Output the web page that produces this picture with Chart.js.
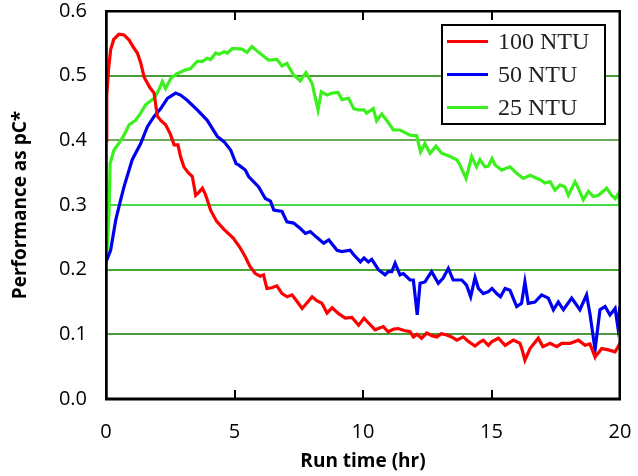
<!DOCTYPE html>
<html>
<head>
<meta charset="utf-8">
<script src="https://cdn.jsdelivr.net/npm/chart.js@4/dist/chart.umd.min.js"></script>
<style>
html,body{margin:0;padding:0;background:#fff;}
#wrap{width:638px;height:476px;position:relative;}
#frame{position:absolute;box-sizing:border-box;border:2px solid #000;pointer-events:none;display:none;}
</style>
</head>
<body>
<div id="wrap"><canvas id="c" width="638" height="476"></canvas><div id="frame"></div></div>
<script>
// ---- Data ----
const seriesLabels = ["100 NTU", "50 NTU", "25 NTU"];
const xTicks = [0, 5, 10, 15, 20];
const yTicks = [0.0, 0.1, 0.2, 0.3, 0.4, 0.5, 0.6];

const t100 = [0,0.03,0.1,0.18,0.3,0.5,0.7,0.9,1.05,1.22,1.35,1.48,1.7,1.87,2.0,2.15,2.32,2.5,2.65,2.8,2.9,3.03,3.2,3.36,3.49,3.62,3.75,3.85,3.94,4.07,4.3,4.6,4.95,5.2,5.42,5.6,5.81,6.0,6.13,6.26,6.45,6.65,6.85,7.05,7.24,7.45,7.63,7.85,8.02,8.2,8.4,8.6,8.8,9.05,9.31,9.57,9.83,10.04,10.25,10.47,10.79,10.98,11.2,11.37,11.6,11.83,11.96,12.1,12.28,12.48,12.68,12.87,13.05,13.26,13.45,13.65,13.9,14.1,14.36,14.55,14.68,14.88,15.02,15.27,15.53,15.85,16.11,16.2,16.3,16.5,16.82,17.0,17.28,17.54,17.73,18.05,18.38,18.64,18.83,19.03,19.29,19.55,19.81,20.0];
const v100 = [0.40,0.47,0.51,0.54,0.556,0.564,0.563,0.555,0.545,0.535,0.52,0.498,0.482,0.473,0.437,0.43,0.424,0.41,0.393,0.393,0.375,0.359,0.35,0.344,0.315,0.32,0.326,0.318,0.308,0.292,0.275,0.262,0.249,0.235,0.220,0.205,0.194,0.19,0.192,0.171,0.172,0.175,0.163,0.158,0.161,0.150,0.140,0.150,0.158,0.152,0.148,0.133,0.141,0.132,0.125,0.126,0.114,0.125,0.116,0.107,0.112,0.104,0.108,0.109,0.106,0.104,0.096,0.1,0.094,0.102,0.098,0.096,0.101,0.099,0.096,0.091,0.096,0.089,0.082,0.088,0.091,0.083,0.089,0.094,0.083,0.091,0.086,0.075,0.060,0.078,0.094,0.081,0.086,0.081,0.086,0.086,0.091,0.083,0.085,0.065,0.078,0.076,0.073,0.086];

const t50 = [0,0.18,0.38,0.57,0.7,1.02,1.35,1.61,1.87,2.13,2.39,2.71,2.9,3.16,3.55,3.94,4.33,4.59,4.85,5.06,5.16,5.42,5.55,5.94,6.2,6.4,6.53,6.85,7.04,7.3,7.55,7.76,7.95,8.2,8.47,8.67,8.99,9.18,9.5,9.64,9.9,10.04,10.21,10.34,10.6,10.86,10.98,11.12,11.25,11.44,11.57,11.83,11.96,12.11,12.22,12.41,12.67,12.93,13.12,13.32,13.51,13.84,14.03,14.19,14.36,14.49,14.68,14.88,15.02,15.2,15.35,15.53,15.72,15.98,16.17,16.3,16.43,16.69,16.95,17.21,17.41,17.6,17.8,18.12,18.44,18.7,18.83,19.03,19.22,19.42,19.61,19.81,19.91,20.0];
const v50 = [0.212,0.230,0.277,0.308,0.328,0.370,0.395,0.421,0.437,0.449,0.465,0.473,0.470,0.462,0.447,0.431,0.406,0.398,0.385,0.364,0.362,0.354,0.344,0.328,0.310,0.306,0.292,0.290,0.274,0.272,0.264,0.256,0.259,0.25,0.241,0.246,0.230,0.228,0.230,0.223,0.212,0.218,0.212,0.216,0.200,0.192,0.197,0.197,0.210,0.192,0.194,0.184,0.184,0.130,0.179,0.181,0.197,0.179,0.187,0.202,0.184,0.184,0.176,0.158,0.188,0.171,0.163,0.166,0.171,0.163,0.158,0.171,0.168,0.143,0.148,0.181,0.148,0.150,0.161,0.156,0.138,0.150,0.138,0.156,0.138,0.161,0.132,0.076,0.138,0.143,0.130,0.140,0.113,0.143];

const t25 = [0,0.05,0.12,0.16,0.31,0.5,0.7,0.9,1.15,1.35,1.54,1.87,2.06,2.19,2.32,2.52,2.77,3.1,3.29,3.55,3.75,3.94,4.07,4.27,4.4,4.59,4.72,4.92,5.29,5.49,5.68,5.94,6.33,6.65,6.85,7.04,7.3,7.56,7.78,8.02,8.25,8.38,8.6,8.8,9.03,9.18,9.44,9.64,9.83,10.04,10.14,10.4,10.53,10.73,10.92,11.18,11.44,11.83,12.09,12.24,12.41,12.61,12.84,13.06,13.39,13.65,13.77,14.01,14.23,14.42,14.55,14.75,14.88,15.02,15.14,15.4,15.72,15.98,16.24,16.5,16.89,17.08,17.28,17.47,17.67,17.86,17.99,18.25,18.38,18.57,18.77,18.96,19.16,19.48,19.67,19.81,19.94,20.0];
const v25 = [0.215,0.235,0.292,0.364,0.385,0.395,0.408,0.424,0.431,0.442,0.455,0.465,0.478,0.491,0.480,0.496,0.503,0.509,0.511,0.522,0.522,0.527,0.525,0.535,0.533,0.537,0.535,0.542,0.541,0.536,0.545,0.536,0.524,0.525,0.515,0.519,0.501,0.492,0.505,0.488,0.447,0.475,0.470,0.473,0.474,0.463,0.465,0.449,0.447,0.447,0.442,0.449,0.430,0.441,0.431,0.416,0.416,0.408,0.407,0.382,0.395,0.380,0.391,0.380,0.375,0.370,0.362,0.341,0.375,0.359,0.370,0.359,0.360,0.372,0.362,0.354,0.359,0.349,0.341,0.346,0.339,0.334,0.336,0.323,0.331,0.328,0.315,0.336,0.326,0.308,0.321,0.313,0.315,0.326,0.315,0.310,0.318,0.297];

const colors = ["#ff0000", "#0000f0", "#3cf01e"];

function pts(t, v){ return t.map((x,i)=>({x:x, y:v[i]})); }

const gridColors = {1:'#4a9a3a', 2:'#44a833', 3:'#48d848', 4:'#6aaa5a', 5:'#4a9a3a'};

// ---- Plugin: legend, inner x ticks and plot frame ----
const framePlugin = {
  id: 'frameLegend',
  afterDraw(chart){
    const ctx = chart.ctx;
    const a = chart.chartArea;
    const xs = chart.scales.x;
    ctx.save();
    // legend
    const w = 163, h = 99;
    const bx = Math.round(a.right) - 15 - w, by = Math.round(a.top) + 14;
    ctx.fillStyle = '#fff';
    ctx.fillRect(bx, by, w, h);
    ctx.strokeStyle = '#000';
    ctx.lineWidth = 2;
    ctx.strokeRect(bx, by, w, h);
    ctx.font = '24px "Liberation Serif", "Times New Roman", serif';
    ctx.textBaseline = 'middle';
    chart.data.datasets.forEach((ds, i)=>{
      const cy = by + 16.5 + i * 33;
      ctx.strokeStyle = ds.borderColor;
      ctx.lineWidth = 3;
      ctx.beginPath();
      ctx.moveTo(bx + 5, cy); ctx.lineTo(bx + 46, cy);
      ctx.stroke();
      ctx.fillStyle = '#222';
      ctx.fillText(ds.label, bx + 56, cy + 1);
    });
    // inner ticks (top and bottom) and frame
    ctx.fillStyle = '#000';
    xTicks.forEach(v=>{
      if (v <= xTicks[0] || v >= xTicks[xTicks.length-1]) return;
      const px = Math.round(xs.getPixelForValue(v));
      ctx.fillRect(px - 1, a.bottom - 9, 2, 9);
      ctx.fillRect(px - 1, a.top, 2, 9);
    });
    ctx.fillRect(a.left - 1, a.top - 1, a.right - a.left + 2, 2.5);
    ctx.fillRect(a.left - 1, a.bottom - 1.5, a.right - a.left + 2, 2.5);
    ctx.fillRect(a.left - 1, a.top - 1, 2.5, a.bottom - a.top + 2);
    ctx.fillRect(a.right - 1.5, a.top - 1, 2.5, a.bottom - a.top + 2);
    ctx.restore();
  }
};

const chart = new Chart(document.getElementById('c'), {
  type: 'line',
  data: {
    datasets: [
      {label: seriesLabels[0], data: pts(t100, v100), borderColor: colors[0]},
      {label: seriesLabels[1], data: pts(t50, v50), borderColor: colors[1]},
      {label: seriesLabels[2], data: pts(t25, v25), borderColor: colors[2]}
    ].map(d=>Object.assign(d, {borderWidth: 3.2, pointRadius: 0, tension: 0, fill: false}))
  },
  options: {
    responsive: false,
    animation: false,
    events: [],
    layout: {padding: {top: 11, right: 18, left: 0, bottom: 0}},
    plugins: {legend: {display: false}, tooltip: {enabled: false}},
    scales: {
      x: {
        type: 'linear', min: 0, max: 20,
        afterBuildTicks: s => { s.ticks = xTicks.map(v=>({value:v})); },
        afterFit: s => { s.height = 77; s.paddingLeft = 0; s.paddingRight = 0; },
        grid: {display: false},
        border: {display: true, color: '#000', width: 2.5},
        ticks: {padding: 13, color: '#000', font: {family: 'Open Sans', size: 20}, maxRotation: 0},
        title: {display: true, text: 'Run time (hr)', color: '#000', font: {family: 'Open Sans', size: 19, weight: 'bold'}, padding: {top: 0, bottom: 3}}
      },
      y: {
        min: 0, max: 0.6,
        afterBuildTicks: s => { s.ticks = yTicks.map(v=>({value:v})); },
        afterFit: s => { s.width = 106; s.paddingTop = 0; s.paddingBottom = 0; },
        grid: {
          drawTicks: false,
          lineWidth: 2,
          color: c => { const k = Math.round(((c.tick && c.tick.value) || 0) * 10); return gridColors[k] || 'rgba(0,0,0,0)'; }
        },
        border: {display: true, color: '#000', width: 2.5},
        ticks: {padding: 19, color: '#000', font: {family: 'Open Sans', size: 20}, callback: v => Number(v).toFixed(1)},
        title: {display: true, text: 'Performance as pC*', color: '#000', font: {family: 'Open Sans', size: 19, weight: 'bold'}, padding: {top: 9, bottom: 0}}
      }
    }
  },
  plugins: [framePlugin]
});

// DOM frame mirroring the chart area (backup for the plot box outline)
const ca = chart.chartArea;
const fr = document.getElementById('frame');
fr.style.left = (ca.left - 1) + 'px';
fr.style.top = (ca.top - 1) + 'px';
fr.style.width = (ca.right - ca.left + 2) + 'px';
fr.style.height = (ca.bottom - ca.top + 2) + 'px';
fr.style.display = 'block';
</script>
</body>
</html>
